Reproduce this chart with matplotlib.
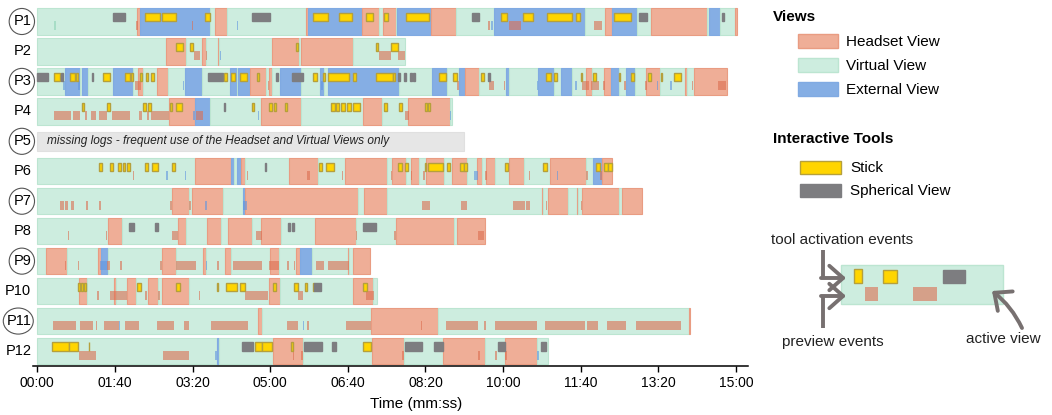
import matplotlib.pyplot as plt
from matplotlib.patches import Ellipse, Rectangle, FancyArrowPatch
import matplotlib.transforms as mtransforms

plt.rcParams['font.family'] = ['Liberation Sans', 'DejaVu Sans']

# view segments (start s, end s, view): H = headset, V = virtual, E = external
p1_views = [(0, 128, 'V'), (128, 132, 'H'), (132, 223, 'E'), (223, 229, 'V'), (229, 244, 'H'),
            (244, 346, 'V'), (346, 349, 'H'), (349, 418, 'E'), (418, 440, 'H'), (440, 445, 'V'),
            (445, 462, 'H'), (462, 463, 'V'), (463, 507, 'E'), (507, 539, 'H'), (539, 588, 'V'),
            (588, 705, 'E'), (705, 731, 'V'), (731, 740, 'H'), (740, 772, 'E'), (772, 791, 'V'),
            (791, 862, 'H'), (862, 865, 'V'), (865, 879, 'E'), (879, 899, 'V'), (899, 901, 'H')]
p2_views = [(0, 166, 'V'), (166, 191, 'H'), (191, 212, 'V'), (212, 217, 'H'), (217, 233, 'V'),
            (233, 234, 'H'), (234, 302, 'V'), (302, 337, 'H'), (337, 339, 'V'), (339, 406, 'H'),
            (406, 473, 'V')]
p3_views = [(0, 36, 'V'), (36, 55, 'E'), (55, 57, 'V'), (57, 65, 'E'), (65, 97, 'V'), (97, 123, 'E'),
            (123, 130, 'V'), (130, 136, 'H'), (136, 154, 'V'), (154, 168, 'H'), (168, 190, 'V'),
            (190, 212, 'E'), (212, 248, 'V'), (248, 257, 'E'), (257, 258, 'V'), (258, 274, 'E'),
            (274, 295, 'H'), (295, 298, 'V'), (298, 302, 'H'), (302, 313, 'V'), (313, 340, 'E'),
            (340, 364, 'V'), (364, 369, 'E'), (369, 374, 'V'), (374, 466, 'E'), (466, 509, 'V'),
            (509, 528, 'E'), (528, 543, 'V'), (543, 551, 'E'), (551, 569, 'H'), (569, 604, 'V'),
            (604, 608, 'E'), (608, 645, 'V'), (645, 665, 'E'), (665, 674, 'V'), (674, 689, 'E'),
            (689, 707, 'V'), (707, 714, 'H'), (714, 730, 'V'), (730, 739, 'H'), (739, 749, 'E'),
            (749, 758, 'V'), (758, 770, 'E'), (770, 784, 'V'), (784, 802, 'H'), (802, 834, 'V'),
            (834, 837, 'H'), (837, 846, 'V'), (846, 889, 'H')]
p4_views = [(0, 170, 'V'), (170, 203, 'H'), (203, 223, 'E'), (223, 288, 'V'), (288, 340, 'H'),
            (340, 419, 'V'), (419, 444, 'H'), (444, 478, 'V'), (478, 531, 'H'), (531, 534, 'V')]
p6_views = [(0, 203, 'V'), (203, 249, 'H'), (249, 253, 'E'), (253, 257, 'V'), (257, 262, 'E'),
            (262, 268, 'H'), (268, 324, 'V'), (324, 361, 'H'), (361, 396, 'V'), (396, 450, 'H'),
            (450, 457, 'V'), (457, 475, 'H'), (475, 481, 'V'), (481, 492, 'H'), (492, 501, 'V'),
            (501, 524, 'H'), (524, 534, 'V'), (534, 554, 'H'), (554, 566, 'V'), (566, 573, 'H'),
            (573, 578, 'V'), (578, 589, 'H'), (589, 608, 'V'), (608, 627, 'H'), (627, 661, 'V'),
            (661, 707, 'H'), (707, 716, 'V'), (716, 728, 'E'), (728, 740, 'H')]
p7_views = [(0, 174, 'V'), (174, 195, 'H'), (195, 199, 'V'), (199, 239, 'H'), (239, 265, 'V'),
            (265, 268, 'E'), (268, 413, 'H'), (413, 421, 'V'), (421, 450, 'H'), (450, 650, 'V'),
            (650, 652, 'H'), (652, 658, 'V'), (658, 684, 'H'), (684, 695, 'V'), (695, 697, 'H'),
            (697, 702, 'V'), (702, 749, 'H'), (749, 753, 'V'), (753, 779, 'H')]
p8_views = [(0, 91, 'V'), (91, 109, 'H'), (109, 181, 'V'), (181, 191, 'H'), (191, 218, 'V'),
            (218, 236, 'H'), (236, 245, 'V'), (245, 277, 'H'), (277, 288, 'V'), (288, 314, 'H'),
            (314, 358, 'V'), (358, 410, 'H'), (410, 462, 'V'), (462, 537, 'H'), (537, 540, 'V'),
            (540, 577, 'H')]
p9_views = [(0, 11, 'V'), (11, 38, 'H'), (38, 78, 'V'), (78, 82, 'H'), (82, 91, 'E'), (91, 160, 'V'),
            (160, 178, 'H'), (178, 213, 'V'), (213, 217, 'H'), (217, 242, 'V'), (242, 250, 'H'),
            (250, 300, 'V'), (300, 311, 'H'), (311, 333, 'V'), (333, 338, 'H'), (338, 354, 'E'),
            (354, 400, 'V'), (400, 402, 'H'), (402, 407, 'V'), (407, 429, 'H')]
p10_views = [(0, 54, 'V'), (54, 64, 'H'), (64, 99, 'V'), (99, 101, 'H'), (101, 116, 'V'),
             (116, 127, 'H'), (127, 143, 'V'), (143, 156, 'H'), (156, 161, 'V'), (161, 196, 'H'),
             (196, 299, 'V'), (299, 313, 'H'), (313, 406, 'V'), (406, 432, 'H'), (432, 437, 'V')]
p11_views = [(0, 284, 'V'), (284, 290, 'H'), (290, 430, 'V'), (430, 516, 'H'), (516, 840, 'V'),
             (840, 841, 'H')]
p12_views = [(0, 231, 'V'), (231, 234, 'E'), (234, 304, 'V'), (304, 342, 'H'), (342, 431, 'V'),
             (431, 472, 'H'), (472, 523, 'V'), (523, 577, 'H'), (577, 603, 'V'), (603, 644, 'H'),
             (644, 658, 'V')]

# tool activations (start, end, tool): S = stick, G = spherical view
p1_tools = [(97, 113, 'G'), (139, 158, 'S'), (161, 179, 'S'), (216, 222, 'S'), (276, 300, 'G'),
            (355, 374, 'S'), (388, 405, 'S'), (424, 433, 'S'), (447, 452, 'S'), (475, 505, 'S'),
            (560, 569, 'G'), (597, 605, 'S'), (625, 639, 'S'), (656, 689, 'S'), (694, 699, 'S'),
            (743, 765, 'S'), (775, 785, 'G'), (882, 885, 'G')]
p2_tools = [(178, 187, 'S'), (197, 200, 'S'), (333, 336, 'S'), (436, 439, 'S'), (456, 465, 'S')]
p3_tools = [(0, 14, 'G'), (21, 29, 'S'), (31, 33, 'G'), (42, 49, 'S'), (50, 52, 'S'), (70, 72, 'G'),
            (85, 93, 'S'), (113, 120, 'S'), (121, 123, 'S'), (132, 135, 'S'), (140, 143, 'S'),
            (147, 150, 'S'), (220, 239, 'G'), (240, 244, 'S'), (249, 255, 'S'), (261, 270, 'S'),
            (283, 285, 'S'), (307, 310, 'G'), (328, 342, 'G'), (355, 360, 'S'), (368, 370, 'S'),
            (374, 401, 'S'), (407, 411, 'S'), (436, 458, 'S'), (458, 461, 'S'), (465, 467, 'G'),
            (472, 475, 'G'), (480, 482, 'G'), (484, 486, 'G'), (518, 527, 'S'), (535, 540, 'S'),
            (572, 575, 'S'), (581, 583, 'G'), (655, 662, 'S'), (666, 670, 'S'), (700, 702, 'S'),
            (716, 720, 'S'), (749, 751, 'S'), (765, 768, 'S'), (787, 790, 'S'), (803, 805, 'S'),
            (820, 829, 'S')]
p4_tools = [(57, 60, 'S'), (90, 93, 'S'), (136, 140, 'S'), (143, 146, 'S'), (171, 174, 'S'),
            (178, 186, 'S'), (240, 242, 'G'), (276, 279, 'S'), (298, 302, 'S'), (305, 308, 'S'),
            (319, 321, 'S'), (378, 383, 'S'), (385, 389, 'S'), (391, 396, 'S'), (399, 404, 'S'),
            (406, 416, 'S'), (447, 451, 'S'), (466, 470, 'S'), (499, 502, 'S'), (503, 506, 'S')]
p6_tools = [(79, 83, 'S'), (94, 97, 'S'), (104, 108, 'S'), (110, 113, 'S'), (116, 119, 'S'),
            (139, 143, 'S'), (148, 156, 'S'), (174, 177, 'S'), (293, 295, 'G'), (363, 367, 'S'),
            (372, 382, 'S'), (465, 470, 'S'), (474, 478, 'S'), (499, 501, 'S'), (503, 522, 'S'),
            (528, 532, 'S'), (545, 549, 'S'), (549, 554, 'S'), (602, 606, 'S'), (652, 657, 'S'),
            (720, 725, 'S'), (730, 735, 'S'), (735, 740, 'S')]
p7_tools = []
p8_tools = [(118, 124, 'G'), (152, 155, 'G'), (323, 325, 'G'), (328, 330, 'G'), (419, 436, 'G')]
p9_tools = []
p10_tools = [(52, 55, 'S'), (56, 59, 'S'), (60, 63, 'S'), (129, 133, 'S'), (178, 184, 'S'),
             (231, 233, 'S'), (243, 257, 'S'), (261, 267, 'S'), (303, 308, 'S'), (330, 336, 'S'),
             (345, 347, 'S'), (355, 357, 'S'), (357, 366, 'G'), (420, 425, 'S')]
p11_tools = []
p12_tools = [(19, 41, 'S'), (41, 52, 'S'), (66, 67, 'S'), (263, 278, 'G'), (280, 289, 'S'),
             (289, 302, 'S'), (327, 329, 'S'), (344, 367, 'G'), (380, 385, 'G'), (419, 430, 'S'),
             (473, 496, 'G'), (511, 522, 'G'), (594, 602, 'G'), (649, 655, 'G')]

# preview events (start, end, previewed view)
p1_prev = [(22, 24, 'V'), (127, 130, 'H'), (199, 201, 'H'), (257, 259, 'E'), (581, 583, 'H'),
           (585, 587, 'E'), (608, 623, 'H'), (717, 728, 'H')]
p2_prev = [(202, 209, 'H'), (217, 219, 'H'), (235, 237, 'E'), (440, 456, 'H'), (464, 473, 'H')]
p3_prev = [(33, 36, 'E'), (53, 55, 'E'), (126, 134, 'H'), (187, 189, 'E'), (297, 299, 'H'),
           (366, 368, 'E'), (540, 543, 'H'), (582, 588, 'H'), (601, 603, 'H'), (643, 645, 'E'),
           (693, 695, 'E'), (702, 711, 'H'), (713, 724, 'H'), (729, 731, 'H'), (756, 758, 'H'),
           (783, 785, 'H'), (798, 800, 'E'), (815, 817, 'E'), (843, 845, 'H'), (877, 887, 'H')]
p4_prev = [(21, 44, 'H'), (46, 55, 'H'), (62, 64, 'H'), (69, 76, 'H'), (79, 90, 'H'), (96, 120, 'H'),
           (131, 135, 'H'), (141, 144, 'H'), (147, 170, 'H'), (201, 203, 'E'), (205, 214, 'H'),
           (284, 286, 'E'), (474, 479, 'H'), (531, 533, 'E')]
p6_prev = [(123, 125, 'H'), (166, 168, 'E'), (190, 192, 'E'), (270, 272, 'H'), (348, 351, 'H'),
           (392, 394, 'H'), (455, 457, 'H'), (481, 483, 'H'), (497, 499, 'H'), (563, 567, 'E'),
           (577, 579, 'H'), (633, 635, 'H'), (669, 671, 'E'), (707, 709, 'H'), (725, 727, 'H')]
p7_prev = [(29, 34, 'H'), (35, 40, 'H'), (43, 47, 'H'), (63, 65, 'H'), (80, 82, 'H'), (171, 174, 'H'),
           (196, 198, 'H'), (216, 219, 'E'), (265, 270, 'E'), (496, 506, 'H'), (546, 554, 'H'),
           (613, 628, 'H'), (630, 634, 'H'), (655, 657, 'H'), (700, 702, 'H')]
p8_prev = [(39, 41, 'H'), (88, 90, 'H'), (173, 181, 'H'), (282, 289, 'H'), (410, 412, 'H'),
           (460, 462, 'H'), (567, 576, 'H')]
p9_prev = [(35, 37, 'H'), (52, 54, 'H'), (81, 90, 'E'), (90, 93, 'H'), (107, 109, 'H'), (158, 160, 'H'),
           (178, 205, 'H'), (217, 219, 'E'), (232, 234, 'H'), (252, 289, 'H'), (298, 311, 'H'),
           (322, 324, 'H'), (330, 332, 'H'), (359, 369, 'H'), (374, 400, 'H'), (400, 402, 'H')]
p10_prev = [(77, 79, 'H'), (94, 115, 'H'), (139, 141, 'H'), (156, 158, 'H'), (208, 210, 'H'),
            (268, 297, 'H'), (336, 342, 'H'), (424, 434, 'H')]
p11_prev = [(20, 50, 'H'), (55, 72, 'H'), (75, 77, 'H'), (86, 105, 'H'), (105, 106, 'E'), (113, 131, 'H'),
            (154, 172, 'H'), (172, 176, 'H'), (189, 196, 'H'), (224, 272, 'H'), (322, 336, 'H'),
            (342, 343, 'E'), (348, 350, 'H'), (398, 430, 'H'), (494, 496, 'H'), (508, 509, 'E'),
            (527, 567, 'H'), (576, 578, 'H'), (590, 643, 'H'), (654, 706, 'H'), (708, 722, 'H'),
            (723, 724, 'E'), (734, 758, 'H'), (771, 829, 'H')]
p12_prev = [(54, 76, 'H'), (162, 196, 'H'), (229, 231, 'E'), (329, 331, 'H'), (340, 342, 'H'),
            (470, 472, 'H'), (568, 570, 'H'), (589, 592, 'H'), (603, 605, 'H'), (644, 646, 'E')]

participants = ['P1', 'P2', 'P3', 'P4', 'P5', 'P6', 'P7', 'P8', 'P9', 'P10', 'P11', 'P12']
circled = ['P1', 'P3', 'P5', 'P7', 'P9', 'P11']
views_all = [p1_views, p2_views, p3_views, p4_views, [], p6_views, p7_views, p8_views,
             p9_views, p10_views, p11_views, p12_views]
tools_all = [p1_tools, p2_tools, p3_tools, p4_tools, [], p6_tools, p7_tools, p8_tools,
             p9_tools, p10_tools, p11_tools, p12_tools]
prev_all = [p1_prev, p2_prev, p3_prev, p4_prev, [], p6_prev, p7_prev, p8_prev,
            p9_prev, p10_prev, p11_prev, p12_prev]
p5_missing = (0, 550)
p5_note = 'missing logs - frequent use of the Headset and Virtual Views only'
xticks = [0, 100, 200, 300, 400, 500, 600, 700, 800, 900]

view_fill = {'H': '#EFAE97', 'V': '#CDEDDF', 'E': '#85AEE4'}
view_edge = {'H': '#E99C82', 'V': '#BCE5D1', 'E': '#80AAE2'}
prev_color = {'H': '#DC6E50', 'V': '#8FD3B6', 'E': '#5F95E0'}
tool_fill = {'S': '#FFD500', 'G': '#7D7D80'}
tool_edge = {'S': '#B5A03C', 'G': '#7D7D80'}

fig = plt.figure(figsize=(10.52, 4.15), dpi=100)
ax = fig.add_axes([0.0318, 0.1181, 0.6789, 0.8662])

for i in range(len(participants)):
    for s, e, v in views_all[i]:
        ax.barh(i, e - s, left=s, height=0.88, color=view_fill[v],
                edgecolor=view_edge[v], linewidth=0.8, zorder=1)
    for s, e, v in prev_all[i]:
        ax.barh(i + 0.15, e - s, left=s, height=0.3, color=prev_color[v],
                alpha=0.6, linewidth=0, zorder=2)
    for s, e, t in tools_all[i]:
        ax.barh(i - 0.145, e - s, left=s, height=0.28, color=tool_fill[t],
                edgecolor=tool_edge[t], linewidth=1.0, zorder=3)

# P5 has no logs
ax.barh(4, p5_missing[1] - p5_missing[0], left=p5_missing[0], height=0.62,
        color='#E6E6E6', edgecolor='#E0E0E0', linewidth=0.8)
ax.text(12, 4, p5_note, style='italic', fontsize=8.6, va='center', ha='left', color='#222222')

ax.set_xlim(-5, 915)
ax.set_ylim(11.5, -0.5)
ax.set_xticks(xticks)
ax.set_xticklabels([f'{t // 60:02d}:{t % 60:02d}' for t in xticks], fontsize=10)
ax.set_yticks([])
for side in ['left', 'top', 'right']:
    ax.spines[side].set_visible(False)
ax.spines['bottom'].set_linewidth(1.1)
ax.tick_params(axis='x', length=4, width=1, pad=3)
ax.set_xlabel('Time (mm:ss)', fontsize=11)
ax.xaxis.set_label_coords(0.536, -0.085)

# participant labels, some circled
trans = mtransforms.blended_transform_factory(ax.transAxes, ax.transData)
for i, name in enumerate(participants):
    ax.text(-0.003, i, name, transform=trans, ha='right', va='center', fontsize=10.5,
            clip_on=False)
    if name in circled:
        w = 0.0355 if len(name) == 2 else 0.042
        cx = -0.003 - (0.0265 if len(name) == 2 else 0.0365) / 2
        ax.add_patch(Ellipse((cx, i), w, 0.87, transform=trans, fill=False,
                             edgecolor='#555555', linewidth=0.8, clip_on=False))

# legend and schematic drawn in pixel space
lg = fig.add_axes([0, 0, 1, 1])
lg.set_xlim(0, 1052)
lg.set_ylim(415, 0)
lg.axis('off')

lg.text(773, 17, 'Views', fontsize=11, fontweight='bold', va='center')
for y, v, label in [(34, 'H', 'Headset View'), (58, 'V', 'Virtual View'), (82, 'E', 'External View')]:
    lg.add_patch(Rectangle((798, y), 40, 14, facecolor=view_fill[v], edgecolor=view_edge[v], lw=1))
    lg.text(846, y + 7.5, label, fontsize=11, va='center')
lg.text(773, 139, 'Interactive Tools', fontsize=11, fontweight='bold', va='center')
for y, t, label in [(161, 'S', 'Stick'), (184, 'G', 'Spherical View')]:
    lg.add_patch(Rectangle((800, y), 41, 13, facecolor=tool_fill[t], edgecolor=tool_edge[t], lw=1))
    lg.text(850, y + 7, label, fontsize=11, va='center')

lg.add_patch(Rectangle((841, 265), 162, 39, facecolor=view_fill['V'], edgecolor=view_edge['V'], lw=1))
lg.add_patch(Rectangle((854, 269), 8, 14, facecolor=tool_fill['S'], edgecolor=tool_edge['S'], lw=1))
lg.add_patch(Rectangle((883, 270), 14, 13, facecolor=tool_fill['S'], edgecolor=tool_edge['S'], lw=1))
lg.add_patch(Rectangle((943, 270), 22, 13, facecolor=tool_fill['G'], edgecolor=tool_fill['G'], lw=1))
lg.add_patch(Rectangle((865, 287), 13, 14, facecolor=prev_color['H'], alpha=0.6, lw=0))
lg.add_patch(Rectangle((913, 287), 24, 14, facecolor=prev_color['H'], alpha=0.6, lw=0))

lg.text(771, 240, 'tool activation events', fontsize=11, va='center', color='#222222')
lg.text(782, 342, 'preview events', fontsize=11, va='center', color='#222222')
lg.text(966, 339, 'active view', fontsize=11, va='center', color='#222222')

arrow_c = '#777070'
head = '->,head_length=0.45,head_width=0.4'
lg.plot([823, 823], [250, 278], color=arrow_c, lw=2.8, solid_capstyle='butt')
lg.add_patch(FancyArrowPatch((821, 278), (846, 278), arrowstyle=head, mutation_scale=22,
                             color=arrow_c, lw=2.8, shrinkA=0, shrinkB=0))
lg.plot([823, 823], [328, 296], color=arrow_c, lw=2.8, solid_capstyle='butt')
lg.add_patch(FancyArrowPatch((821, 296), (846, 296), arrowstyle=head, mutation_scale=22,
                             color=arrow_c, lw=2.8, shrinkA=0, shrinkB=0))
lg.add_patch(FancyArrowPatch((1022, 328), (992, 291), arrowstyle=head, mutation_scale=22,
                             connectionstyle='arc3,rad=0.12', color=arrow_c, lw=2.8,
                             shrinkA=0, shrinkB=0))

fig.savefig('out.png', dpi=100)
